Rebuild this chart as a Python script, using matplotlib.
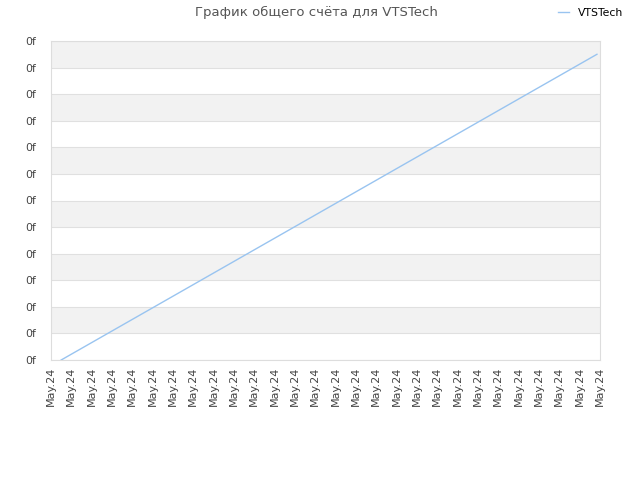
import matplotlib
matplotlib.use("Agg")
import matplotlib.pyplot as plt
from matplotlib.ticker import FixedLocator, FixedFormatter

title = "График общего счёта для VTSTech"
series_name = "VTSTech"
x_vals = [0.5, 26.85]
y_vals = [0.0, 11.5]
x_tick_labels = ["May.24"] * 28
y_tick_labels = ["0f"] * 13

fig = plt.figure(figsize=(6.4, 4.8), dpi=100)
ax = fig.add_axes([51/640, 120/480, 549/640, 319/480])

n_y = len(y_tick_labels) - 1
for i in range(n_y):
    if (n_y - 1 - i) % 2 == 0:
        ax.axhspan(i, i + 1, color="#f2f2f2", zorder=0, lw=0)

ax.plot(x_vals, y_vals, color="#99c4f0", lw=1, label=series_name, zorder=3)

ax.set_xlim(0, len(x_tick_labels) - 1)
ax.set_ylim(0, n_y)
ax.xaxis.set_major_locator(FixedLocator(range(len(x_tick_labels))))
ax.xaxis.set_major_formatter(FixedFormatter(x_tick_labels))
ax.yaxis.set_major_locator(FixedLocator(range(len(y_tick_labels))))
ax.yaxis.set_major_formatter(FixedFormatter(y_tick_labels))
ax.tick_params(axis="x", rotation=90, labelsize=8, colors="#444444", length=0, pad=5)
ax.tick_params(axis="y", labelsize=7.8, colors="#444444", length=0, pad=11)
ax.grid(axis="y", color="#e0e0e0", lw=0.8, zorder=1)
for s in ax.spines.values():
    s.set_color("#dddddd")

fig.text(0.495, 0.973, title, ha="center", va="center", fontsize=9.5, color="#555555")
fig.legend(loc="center", bbox_to_anchor=(0.923, 0.973), frameon=False, fontsize=7.8,
           handlelength=1.0, handletextpad=0.8, borderpad=0)

fig.savefig("out.png", dpi=100)
